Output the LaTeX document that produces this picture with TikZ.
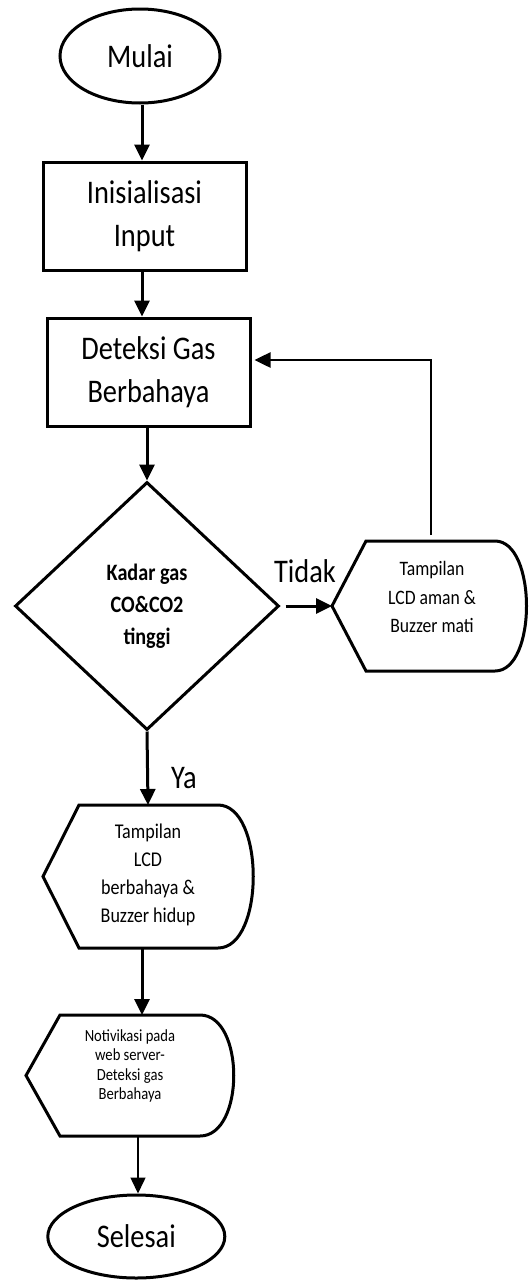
\documentclass[tikz,border=0pt]{standalone}
\usepackage{fontspec}
\setmainfont{Carlito}[FakeStretch=0.86]
\usetikzlibrary{arrows.meta,shapes.geometric}
\begin{document}
\begin{tikzpicture}[x=1pt,y=-1pt,
  outline/.style={draw=black,line width=3pt,line join=miter},
  term/.style={outline,ellipse,inner sep=0pt,font=\fontsize{33}{43}\selectfont},
  proc/.style={outline,rectangle,inner sep=0pt,minimum width=203pt,minimum height=108pt,align=center,font=\fontsize{33}{43.5}\selectfont},
  dec/.style={outline,diamond,inner sep=0pt,minimum width=264pt,minimum height=248pt,align=center,font=\fontsize{23.5}{32}\selectfont\bfseries},
  dtext/.style={align=center,inner sep=0pt},
  lab/.style={inner sep=0pt,font=\fontsize{33}{40}\selectfont},
  arr/.style={line width=3pt,-{Triangle[length=16pt,width=15pt]}},
  thinarr/.style={line width=1.5pt,-{Triangle[length=16pt,width=15pt]}},
  thinline/.style={line width=1.5pt}
]
\useasboundingbox (0,0) rectangle (530,1280);

% nodes
\node[term,minimum width=160pt,minimum height=94pt] (mulai) at (140,56) {Mulai};
\node[proc] (init) at (144.5,216) {Inisialisasi\\Input};
\node[proc] (det) at (148.5,372) {Deteksi Gas\\Berbahaya};
\node[dec] (dia) at (147,606) {Kadar gas\\CO\&CO2\\tinggi};

% display 1
\coordinate (d1L) at (332,606);
\coordinate (d1T) at (431,541);
\draw[outline] (d1L) -- (366,541) -- (495,541) .. controls (537,541) and (537,671) .. (495,671) -- (366,671) -- cycle;
\node[dtext,font=\fontsize{20.5}{28.5}\selectfont] (d1) at (432,597) {Tampilan\\LCD aman \&\\Buzzer mati};

% display 2
\coordinate (d2T) at (148,805);
\coordinate (d2B) at (142,948);
\draw[outline] (43,876.5) -- (79,805) -- (218,805) .. controls (265,805) and (265,948) .. (218,948) -- (79,948) -- cycle;
\node[dtext,font=\fontsize{21}{28}\selectfont] (d2) at (148,875) {Tampilan\\LCD\\berbahaya \&\\Buzzer hidup};

% display 3
\coordinate (d3T) at (142,1015);
\coordinate (d3B) at (138,1136);
\draw[outline] (26,1075.5) -- (60,1015) -- (200,1015) .. controls (245,1015) and (245,1136) .. (200,1136) -- (60,1136) -- cycle;
\node[dtext,font=\fontsize{17}{19.5}\selectfont] (d3) at (130,1066) {Notivikasi pada\\web server-\\Deteksi gas\\Berbahaya};

\node[term,minimum width=177pt,minimum height=83pt] (sel) at (136.3,1236.5) {Selesai};

% labels
\node[lab] (tidak) at (305,571) {Tidak};
\node[lab] (ya) at (184,778) {Ya};

% connectors
\draw[arr] ([xshift=2pt]mulai.south) -- ([xshift=2pt]mulai.south |- init.north);
\draw[arr] ([xshift=-2.5pt]init.south) -- ([xshift=-2.5pt]init.south |- det.north);
\draw[arr] (det.south -| dia.north) -- (dia.north);
\draw[arr,shorten <=5pt] (dia.east) -- (d1L);
\coordinate (fbs) at (431,535);
\coordinate (fb) at (431,360);
\draw[thinline] (fbs) -- (fb);
\draw[arr,line width=2.5pt,shorten >=3pt] ([xshift=0.75pt]fb) -- (fb -| det.east);
\draw[arr] (dia.south) -- (d2T);
\draw[arr] (d2B) -- (d3T);
\draw[thinarr] (d3B) -- (d3B |- sel.north);
\end{tikzpicture}
\end{document}
